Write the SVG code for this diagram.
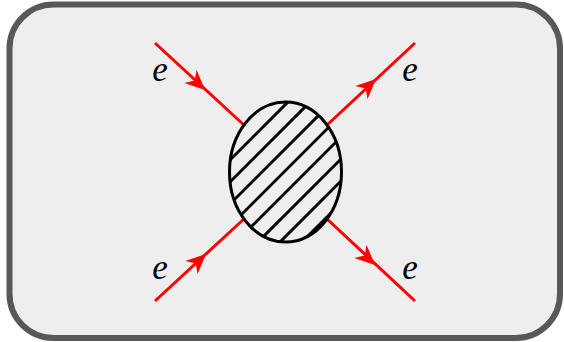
<svg xmlns="http://www.w3.org/2000/svg" width="564" height="342" viewBox="0 0 564 342">
<style>
.prop{stroke:#f00;stroke-width:3;fill:none}
.arr{fill:#f00;stroke:none}
.lbl{font-family:"Liberation Serif","DejaVu Serif",serif;font-style:italic;font-size:35px;fill:#000;text-anchor:middle}
.hatch{stroke:#000;stroke-width:3}
</style>
<defs>
<path id="ah" d="M0,0 L-20,-9 L-14,0 L-20,9 Z"/>
<clipPath id="ec"><ellipse cx="285.5" cy="172" rx="56" ry="70"/></clipPath>
</defs>
<rect x="9.5" y="4.5" width="550.5" height="333.5" rx="44" ry="44" fill="#eeeeee" stroke="#585858" stroke-width="6"/>
<g id="connectors">
<line class="prop" x1="155" y1="43" x2="245" y2="126"/>
<line class="prop" x1="415" y1="43" x2="326" y2="126"/>
<line class="prop" x1="155" y1="301" x2="245" y2="218"/>
<line class="prop" x1="415" y1="301" x2="326" y2="218"/>
<use href="#ah" class="arr" transform="translate(205,90) rotate(43)"/>
<use href="#ah" class="arr" transform="translate(376,79) rotate(-43)"/>
<use href="#ah" class="arr" transform="translate(206,254) rotate(-43)"/>
<use href="#ah" class="arr" transform="translate(375,265) rotate(43)"/>
</g>
<g id="blob">
<ellipse cx="285.5" cy="172" rx="56" ry="70" fill="#eeeeee"/>
<g clip-path="url(#ec)" class="hatch">
<line x1="190" y1="200" x2="400" y2="-10"/>
<line x1="190" y1="222" x2="400" y2="12"/>
<line x1="190" y1="244" x2="400" y2="34"/>
<line x1="190" y1="266" x2="400" y2="56"/>
<line x1="190" y1="288" x2="400" y2="78"/>
<line x1="190" y1="310" x2="400" y2="100"/>
<line x1="190" y1="332" x2="400" y2="122"/>
<line x1="190" y1="354" x2="400" y2="144"/>
</g>
<ellipse cx="285.5" cy="172" rx="56" ry="70" fill="none" stroke="#000" stroke-width="3"/>
</g>
<g id="labels">
<text class="lbl" x="160" y="81">e</text>
<text class="lbl" x="410" y="81">e</text>
<text class="lbl" x="160" y="279">e</text>
<text class="lbl" x="410" y="279">e</text>
</g>
</svg>
